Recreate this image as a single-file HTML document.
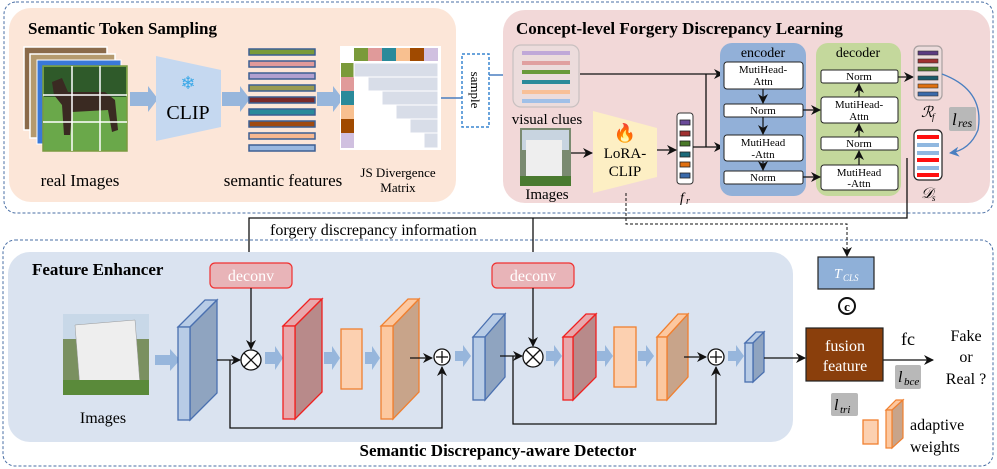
<!DOCTYPE html>
<html><head><meta charset="utf-8"><style>
html,body{margin:0;padding:0;background:#fff}
svg{display:block}
text{font-family:"Liberation Serif",serif}
</style></head><body>
<svg width="997" height="469" viewBox="0 0 997 469" xmlns="http://www.w3.org/2000/svg">
<defs>
<marker id="ah" markerWidth="10" markerHeight="10" refX="9" refY="5" orient="auto" markerUnits="userSpaceOnUse"><path d="M0,0 L10,5 L0,10 L3,5 Z" fill="#111"/></marker>
<marker id="ahb" markerWidth="10" markerHeight="10" refX="9" refY="5" orient="auto" markerUnits="userSpaceOnUse"><path d="M0,0 L10,5 L0,10 L3,5 Z" fill="#4a7fc0"/></marker>
</defs>
<!-- outer dashed boxes -->
<rect x="4" y="2" width="989" height="211" rx="12" fill="none" stroke="#4a6fa5" stroke-width="1" stroke-dasharray="3,2"/>
<rect x="3" y="240" width="990" height="226" rx="12" fill="none" stroke="#4a6fa5" stroke-width="1" stroke-dasharray="3,2"/>
<!-- top-left panel -->
<rect x="9" y="8" width="447" height="194" rx="22" fill="#fce6d8"/>
<text x="28" y="34" font-size="17" font-weight="bold">Semantic Token Sampling</text>
<rect x="24" y="47" width="83" height="83" fill="#8a6a4a" stroke="#fff" stroke-width="1.5"/>
<rect x="30" y="54" width="85" height="84" fill="#b59a6e" stroke="#fff" stroke-width="1.5"/>
<rect x="37" y="60" width="84" height="84" fill="#3a78d8" stroke="#fff" stroke-width="1"/>
<rect x="43" y="66" width="84" height="85" fill="#6aa84a" stroke="#7a9a40" stroke-width="1.5"/>
<rect x="44" y="67" width="82" height="30" fill="#2f5a2a"/>
<path d="M52,82 L62,78 L68,92 L105,92 L115,100 L118,130 L112,132 L108,110 L72,112 L70,135 L64,135 L62,105 L54,95 Z" fill="#3a2a22"/>
<g stroke="#fff" stroke-width="1.5"><line x1="72" y1="66" x2="72" y2="151"/><line x1="100" y1="66" x2="100" y2="151"/><line x1="43" y1="95" x2="127" y2="95"/><line x1="43" y1="122" x2="127" y2="122"/></g>
<g fill="#97b6dc">
<path d="M130,92 L148,92 L148,86 L158,99 L148,112 L148,106 L130,106 Z"/>
<path d="M222,92 L240,92 L240,86 L250,99 L240,112 L240,106 L222,106 Z"/>
<path d="M317,92 L333,92 L333,86 L343,99 L333,112 L333,106 L317,106 Z"/>
</g>
<path d="M156,56 L221,70 L221,127 L156,141 Z" fill="#c5d8f0"/>
<text x="188" y="89" font-size="18" fill="#3aa8e8" text-anchor="middle" font-family="DejaVu Sans">❄</text>
<text x="188" y="119" font-size="20" text-anchor="middle">CLIP</text>
<g stroke="#3c5f93" stroke-width="1.5">
<rect x="249" y="49" width="66" height="6" fill="#7a9a3a"/>
<rect x="249" y="61" width="66" height="6" fill="#e09a9a"/>
<rect x="249" y="73" width="66" height="6" fill="#b0a0d0"/>
<rect x="249" y="85" width="66" height="6" fill="#9a9a50"/>
<rect x="249" y="97" width="66" height="6" fill="#7a2a2a"/>
<rect x="249" y="109" width="66" height="6" fill="#2a8a9a"/>
<rect x="249" y="121" width="66" height="6" fill="#a04a10"/>
<rect x="249" y="133" width="66" height="6" fill="#f8b890"/>
<rect x="249" y="145" width="66" height="6" fill="#9ab8e0"/>
</g>
<!-- matrix -->
<rect x="340" y="46" width="101" height="104" fill="#fff"/>
<g>
<rect x="354" y="48" width="14" height="13" fill="#7a9a3a"/><rect x="368" y="48" width="14" height="13" fill="#e09a9a"/><rect x="382" y="48" width="14" height="13" fill="#2a8a9a"/><rect x="396" y="48" width="14" height="13" fill="#f8c090"/><rect x="410" y="48" width="14" height="13" fill="#a04a00"/><rect x="424" y="48" width="14" height="13" fill="#d0c0e0"/>
<rect x="341" y="63" width="13" height="14" fill="#7a9a3a"/><rect x="341" y="77" width="13" height="14" fill="#e09a9a"/><rect x="341" y="91" width="13" height="14" fill="#2a8a9a"/><rect x="341" y="105" width="13" height="14" fill="#f8c090"/><rect x="341" y="119" width="13" height="14" fill="#a04a00"/><rect x="341" y="133" width="13" height="15" fill="#d0c0e0"/>
</g>
<g fill="#d8dde8" stroke="#fff" stroke-width="1">
<rect x="354" y="63" width="84" height="14"/>
<rect x="368" y="77" width="70" height="14"/>
<rect x="382" y="91" width="56" height="14"/>
<rect x="396" y="105" width="42" height="14"/>
<rect x="410" y="119" width="28" height="14"/>
<rect x="424" y="133" width="14" height="15"/>
</g>
<text x="80" y="186" font-size="17" text-anchor="middle">real Images</text>
<text x="283" y="186" font-size="17" text-anchor="middle">semantic features</text>
<text x="398" y="177" font-size="13" text-anchor="middle">JS Divergence</text>
<text x="398" y="192" font-size="13" text-anchor="middle">Matrix</text>
<rect x="462" y="54" width="27" height="73" fill="#fff" stroke="#3a86d0" stroke-width="1.5" stroke-dasharray="3,2"/>
<text transform="translate(471,90) rotate(90)" font-size="13" text-anchor="middle">sample</text>
<line x1="441" y1="98" x2="462" y2="98" stroke="#4a7fc0" stroke-width="1.5"/>
<line x1="489" y1="75" x2="512" y2="75" stroke="#4a7fc0" stroke-width="1.5" marker-end="url(#ahb)"/>
<!-- right panel -->
<rect x="503" y="10" width="487" height="193" rx="22" fill="#f2d8d8"/>
<text x="516" y="34" font-size="17" font-weight="bold">Concept-level Forgery Discrepancy Learning</text>
<rect x="513" y="45" width="66" height="62" rx="8" fill="#ecdcdc" stroke="#c8c0c0" stroke-width="1.2"/>
<g><rect x="522" y="51" width="48" height="4" fill="#c0a8d8"/><rect x="522" y="61" width="48" height="4" fill="#e0a0a0"/><rect x="522" y="70" width="48" height="4" fill="#6a9a3a"/><rect x="522" y="80" width="48" height="4" fill="#2a8a9a"/><rect x="522" y="90" width="48" height="4" fill="#f8c098"/><rect x="522" y="99" width="48" height="4" fill="#a0c0e8"/></g>
<text x="547" y="124" font-size="15" text-anchor="middle">visual clues</text>
<rect x="520" y="128" width="51" height="58" fill="#7a8a70"/>
<rect x="522" y="130" width="47" height="20" fill="#c8d4e0"/>
<rect x="526" y="140" width="36" height="36" fill="#eeeeee"/>
<rect x="520" y="176" width="51" height="10" fill="#4a7a30"/>
<text x="547" y="199" font-size="15" text-anchor="middle">Images</text>
<line x1="571" y1="153" x2="592" y2="153" stroke="#111" stroke-width="1.3" marker-end="url(#ah)"/>
<path d="M593,111 L657,128 L657,177 L593,193 Z" fill="#fdefc4"/>
<text x="625" y="139" font-size="18" fill="#e03a10" text-anchor="middle" font-family="DejaVu Sans">🔥</text>
<text x="625" y="158" font-size="15" text-anchor="middle">LoRA-</text>
<text x="625" y="176" font-size="15" text-anchor="middle">CLIP</text>
<line x1="657" y1="150" x2="676" y2="150" stroke="#111" stroke-width="1.3" marker-end="url(#ah)"/>
<rect x="677" y="113" width="16" height="71" rx="3" fill="#fff" stroke="#333" stroke-width="1"/>
<g stroke="#222" stroke-width="0.8"><rect x="680" y="120" width="10" height="5" fill="#6a4a9a"/><rect x="680" y="131" width="10" height="5" fill="#a03030"/><rect x="680" y="141" width="10" height="5" fill="#4a7a2a"/><rect x="680" y="152" width="10" height="5" fill="#1a6a7a"/><rect x="680" y="162" width="10" height="5" fill="#e07010"/><rect x="680" y="173" width="10" height="5" fill="#3a6aaa"/></g>
<text x="680" y="202" font-size="14" font-style="italic">f</text><text x="686" y="204" font-size="10" font-style="italic">r</text>
<polyline points="580,74 706,74" fill="none" stroke="#111" stroke-width="1.3"/>
<line x1="706" y1="74" x2="723" y2="74" stroke="#111" stroke-width="1.3" marker-end="url(#ah)"/>
<line x1="706" y1="74" x2="706" y2="147" stroke="#111" stroke-width="1.3"/>
<line x1="693" y1="147" x2="723" y2="147" stroke="#111" stroke-width="1.3" marker-end="url(#ah)"/>
<rect x="720" y="43" width="86" height="153" rx="12" fill="#92b0d8"/>
<text x="763" y="57" font-size="14" text-anchor="middle">encoder</text>
<rect x="724" y="62" width="79" height="27" rx="3" fill="#fff" stroke="#222"/>
<text x="763" y="73" font-size="11" text-anchor="middle">MutiHead-</text><text x="763" y="85" font-size="11" text-anchor="middle">Attn</text>
<rect x="724" y="104" width="79" height="13" rx="2" fill="#fff" stroke="#222"/>
<text x="763" y="114" font-size="11" text-anchor="middle">Norm</text>
<rect x="724" y="135" width="79" height="26" rx="3" fill="#fff" stroke="#222"/>
<text x="763" y="146" font-size="11" text-anchor="middle">MutiHead</text><text x="763" y="158" font-size="11" text-anchor="middle">-Attn</text>
<rect x="724" y="171" width="79" height="13" rx="2" fill="#fff" stroke="#222"/>
<text x="763" y="181" font-size="11" text-anchor="middle">Norm</text>
<g stroke="#111" stroke-width="1.2"><line x1="763" y1="89" x2="763" y2="103" marker-end="url(#ah)"/><line x1="763" y1="117" x2="763" y2="134" marker-end="url(#ah)"/><line x1="763" y1="161" x2="763" y2="170" marker-end="url(#ah)"/></g>
<rect x="816" y="43" width="85" height="153" rx="12" fill="#c4d89c"/>
<text x="858" y="57" font-size="14" text-anchor="middle">decoder</text>
<rect x="821" y="70" width="77" height="13" rx="2" fill="#fff" stroke="#222"/>
<text x="859" y="80" font-size="11" text-anchor="middle">Norm</text>
<rect x="821" y="97" width="77" height="26" rx="3" fill="#fff" stroke="#222"/>
<text x="859" y="108" font-size="11" text-anchor="middle">MutiHead-</text><text x="859" y="120" font-size="11" text-anchor="middle">Attn</text>
<rect x="821" y="137" width="77" height="13" rx="2" fill="#fff" stroke="#222"/>
<text x="859" y="147" font-size="11" text-anchor="middle">Norm</text>
<rect x="821" y="165" width="77" height="25" rx="3" fill="#fff" stroke="#222"/>
<text x="859" y="176" font-size="11" text-anchor="middle">MutiHead</text><text x="859" y="187" font-size="11" text-anchor="middle">-Attn</text>
<g stroke="#111" stroke-width="1.2"><line x1="859" y1="97" x2="859" y2="84" marker-end="url(#ah)"/><line x1="859" y1="137" x2="859" y2="124" marker-end="url(#ah)"/><line x1="859" y1="165" x2="859" y2="151" marker-end="url(#ah)"/>
<line x1="803" y1="110" x2="820" y2="110" marker-end="url(#ah)"/><line x1="803" y1="177" x2="820" y2="177" marker-end="url(#ah)"/><line x1="898" y1="77" x2="913" y2="77" marker-end="url(#ah)"/></g>
<rect x="914" y="46" width="28" height="54" rx="5" fill="#ecdcdc" stroke="#a8a0a0" stroke-width="1.2"/>
<g stroke="#333" stroke-width="0.6"><rect x="918" y="51" width="20" height="4" fill="#5a3a80"/><rect x="918" y="59" width="20" height="4" fill="#a03030"/><rect x="918" y="67" width="20" height="4" fill="#4a7a2a"/><rect x="918" y="76" width="20" height="4" fill="#1a5a6a"/><rect x="918" y="84" width="20" height="4" fill="#e07010"/><rect x="918" y="92" width="20" height="4" fill="#3a6aaa"/></g>
<text x="921" y="117" font-size="15" font-style="italic" font-family="Liberation Serif">ℛ</text><text x="932" y="120" font-size="9" font-style="italic">f</text>
<rect x="949" y="107" width="27" height="24" rx="2" fill="#b8b8b8"/>
<text x="952" y="125" font-size="17" font-style="italic">l</text><text x="958" y="127" font-size="12" font-style="italic">res</text>
<rect x="914" y="130" width="28" height="50" rx="5" fill="#fff" stroke="#222" stroke-width="1.2"/>
<g><rect x="917" y="135" width="22" height="4" fill="#ff1010"/><rect x="917" y="143" width="22" height="4" fill="#90b8e0"/><rect x="917" y="151" width="22" height="4" fill="#90b8e0"/><rect x="917" y="158" width="22" height="4" fill="#ff1010"/><rect x="917" y="166" width="22" height="4" fill="#90b8e0"/><rect x="917" y="173" width="22" height="4" fill="#ff1010"/></g>
<text x="921" y="198" font-size="15" font-style="italic">𝒟</text><text x="932" y="201" font-size="9" font-style="italic">s</text>
<path d="M942,74 Q985,90 978,130 Q970,150 950,153" fill="none" stroke="#4a7fc0" stroke-width="1.3" marker-end="url(#ahb)"/>
<!-- connectors between sections -->
<polyline points="907,158 907,218 249,218 249,262" fill="none" stroke="#111" stroke-width="1.3" marker-end="url(#ah)"/>
<line x1="533" y1="218" x2="533" y2="262" stroke="#111" stroke-width="1.3" marker-end="url(#ah)"/>
<polyline points="626,193 626,224 847,224 847,256" fill="none" stroke="#111" stroke-width="1" stroke-dasharray="3,2" marker-end="url(#ah)"/>
<text x="270" y="235" font-size="16">forgery discrepancy information</text>
<!-- bottom -->
<rect x="8" y="252" width="785" height="190" rx="22" fill="#dae3f0"/>
<text x="32" y="275" font-size="17" font-weight="bold">Feature Enhancer</text>
<rect x="210" y="263" width="82" height="25" rx="5" fill="#e8b4b8" stroke="#f03030" stroke-width="1.2"/>
<text x="251" y="281" font-size="16" fill="#fff" text-anchor="middle">deconv</text>
<rect x="492" y="263" width="82" height="25" rx="5" fill="#e8b4b8" stroke="#f03030" stroke-width="1.2"/>
<text x="533" y="281" font-size="16" fill="#fff" text-anchor="middle">deconv</text>
<rect x="63" y="314" width="86" height="81" fill="#7a9060"/>
<rect x="63" y="314" width="86" height="25" fill="#c8d8e8"/>
<path d="M75,325 L135,320 L140,385 L80,388 Z" fill="#eeeeee" stroke="#999" stroke-width="0.5"/>
<rect x="63" y="380" width="86" height="15" fill="#5a8a3a"/>
<text x="103" y="423" font-size="16" text-anchor="middle">Images</text>
<g fill="#97b6dc">
<path d="M155,355 L170,355 L170,349 L180,360 L170,371 L170,365 L155,365 Z"/>
<path d="M265,352 L275,352 L275,346 L283,358 L275,370 L275,364 L265,364 Z"/>
<path d="M324,352 L332,352 L332,346 L340,358 L332,370 L332,364 L324,364 Z"/>
<path d="M365,352 L372,352 L372,346 L380,358 L372,370 L372,364 L365,364 Z"/>
<path d="M455,351 L463,351 L463,345 L471,356 L463,367 L463,361 L455,361 Z"/>
<path d="M546,351 L554,351 L554,345 L562,356 L554,367 L554,361 L546,361 Z"/>
<path d="M597,351 L605,351 L605,345 L613,356 L605,367 L605,361 L597,361 Z"/>
<path d="M638,351 L646,351 L646,345 L654,356 L646,367 L646,361 L638,361 Z"/>
<path d="M728,351 L736,351 L736,345 L744,356 L736,367 L736,361 L728,361 Z"/>
</g>
<!-- slabs -->
<g stroke-width="1.3">
<path d="M178,327 L205,300 L217,300 L190,327 Z" fill="#b8cce6" stroke="#4a70b0"/>
<path d="M190,327 L217,300 L217,393 L190,420 Z" fill="#8fa4c0" stroke="#4a70b0"/>
<rect x="178" y="327" width="12" height="93" fill="#b8cce6" stroke="#4a70b0"/>
<path d="M283,326 L310,299 L322,299 L295,326 Z" fill="#e8a8ac" stroke="#f02020"/>
<path d="M295,326 L322,299 L322,392 L295,419 Z" fill="#b88a8a" stroke="#f02020"/>
<rect x="283" y="326" width="12" height="93" fill="#e8a8ac" stroke="#f02020"/>
<rect x="341" y="329" width="21" height="60" fill="#fcd0b0" stroke="#f08030"/>
<path d="M381,326 L408,299 L419,299 L393,326 Z" fill="#fcc8a0" stroke="#f08030"/>
<path d="M393,326 L419,299 L419,392 L393,419 Z" fill="#c8a48a" stroke="#f08030"/>
<rect x="381" y="326" width="12" height="93" fill="#fcc8a0" stroke="#f08030"/>
<path d="M473,337 L493,314 L505,314 L485,337 Z" fill="#b8cce6" stroke="#4a70b0"/>
<path d="M485,337 L505,314 L505,377 L485,400 Z" fill="#8fa4c0" stroke="#4a70b0"/>
<rect x="473" y="337" width="12" height="63" fill="#b8cce6" stroke="#4a70b0"/>
<path d="M563,337 L586,314 L596,314 L573,337 Z" fill="#e8a8ac" stroke="#f02020"/>
<path d="M573,337 L596,314 L596,377 L573,400 Z" fill="#b88a8a" stroke="#f02020"/>
<rect x="563" y="337" width="10" height="63" fill="#e8a8ac" stroke="#f02020"/>
<rect x="614" y="327" width="22" height="60" fill="#fcd0b0" stroke="#f08030"/>
<path d="M657,337 L678,314 L688,314 L667,337 Z" fill="#fcc8a0" stroke="#f08030"/>
<path d="M667,337 L688,314 L688,377 L667,400 Z" fill="#c8a48a" stroke="#f08030"/>
<rect x="657" y="337" width="10" height="63" fill="#fcc8a0" stroke="#f08030"/>
<path d="M745,343 L756,332 L764,332 L753,343 Z" fill="#b8cce6" stroke="#4a70b0"/>
<path d="M753,343 L764,332 L764,372 L753,382 Z" fill="#8fa4c0" stroke="#4a70b0"/>
<rect x="745" y="343" width="8" height="39" fill="#b8cce6" stroke="#4a70b0"/>
</g>
<g stroke="#111" stroke-width="1.3" fill="none">
<line x1="251" y1="288" x2="251" y2="349" marker-end="url(#ah)"/>
<line x1="217" y1="360" x2="240" y2="360" marker-end="url(#ah)"/>
<polyline points="230,360 230,428 442,428 442,367" marker-end="url(#ah)"/>
<line x1="410" y1="358" x2="432" y2="358" marker-end="url(#ah)"/>
<line x1="533" y1="288" x2="533" y2="346" marker-end="url(#ah)"/>
<line x1="500" y1="356" x2="522" y2="356" marker-end="url(#ah)"/>
<polyline points="513,356 513,424 716,424 716,367" marker-end="url(#ah)"/>
<line x1="684" y1="357" x2="706" y2="357" marker-end="url(#ah)"/>
<line x1="764" y1="358" x2="805" y2="358" marker-end="url(#ah)"/>
<line x1="882" y1="360" x2="933" y2="360" marker-end="url(#ah)"/>
<circle cx="251" cy="360" r="10" fill="#fff"/><line x1="244" y1="353" x2="258" y2="367"/><line x1="258" y1="353" x2="244" y2="367"/>
<circle cx="442" cy="357" r="8" fill="#fff"/><line x1="436" y1="357" x2="448" y2="357"/><line x1="442" y1="351" x2="442" y2="363"/>
<circle cx="533" cy="357" r="10" fill="#fff"/><line x1="526" y1="350" x2="540" y2="364"/><line x1="540" y1="350" x2="526" y2="364"/>
<circle cx="716" cy="357" r="8" fill="#fff"/><line x1="710" y1="357" x2="722" y2="357"/><line x1="716" y1="351" x2="716" y2="363"/>
</g>
<rect x="818" y="257" width="56" height="32" fill="#8fb0d8" stroke="#222" stroke-width="1.2"/>
<text x="834" y="278" font-size="14" fill="#fff" font-style="italic">T</text><text x="843" y="281" font-size="9" fill="#fff" font-style="italic">CLS</text>
<circle cx="847" cy="306" r="8" fill="none" stroke="#111" stroke-width="2"/>
<text x="847" y="311" font-size="13" font-weight="bold" text-anchor="middle">c</text>
<rect x="806" y="328" width="77" height="53" fill="#8a3f0c" stroke="#222" stroke-width="1.2"/>
<text x="845" y="351" font-size="16" fill="#fff" text-anchor="middle">fusion</text>
<text x="845" y="371" font-size="16" fill="#fff" text-anchor="middle">feature</text>
<text x="908" y="345" font-size="18" text-anchor="middle">fc</text>
<text x="966" y="341" font-size="16" text-anchor="middle">Fake</text>
<text x="966" y="362" font-size="16" text-anchor="middle">or</text>
<text x="966" y="384" font-size="16" text-anchor="middle">Real ?</text>
<rect x="895" y="365" width="26" height="24" rx="2" fill="#b8b8b8"/>
<text x="898" y="382" font-size="16" font-style="italic">l</text><text x="904" y="385" font-size="11" font-style="italic">bce</text>
<rect x="831" y="393" width="27" height="23" rx="2" fill="#b8b8b8"/>
<text x="834" y="410" font-size="16" font-style="italic">l</text><text x="840" y="413" font-size="11" font-style="italic">tri</text>
<rect x="863" y="420" width="15" height="24" fill="#fcd0b0" stroke="#f08030" stroke-width="1.3"/>
<path d="M886,410 L892,410 L903,400 L896,400 Z" fill="#fcc8a0" stroke="#f08030" stroke-width="1.2"/>
<path d="M892,410 L903,400 L903,438 L892,448 Z" fill="#c8a48a" stroke="#f08030" stroke-width="1.2"/>
<rect x="886" y="410" width="6" height="38" fill="#fcc8a0" stroke="#f08030" stroke-width="1.2"/>
<text x="910" y="430" font-size="16">adaptive</text>
<text x="910" y="452" font-size="16">weights</text>
<text x="498" y="456" font-size="17" font-weight="bold" text-anchor="middle">Semantic Discrepancy-aware Detector</text>
</svg>
</body></html>
